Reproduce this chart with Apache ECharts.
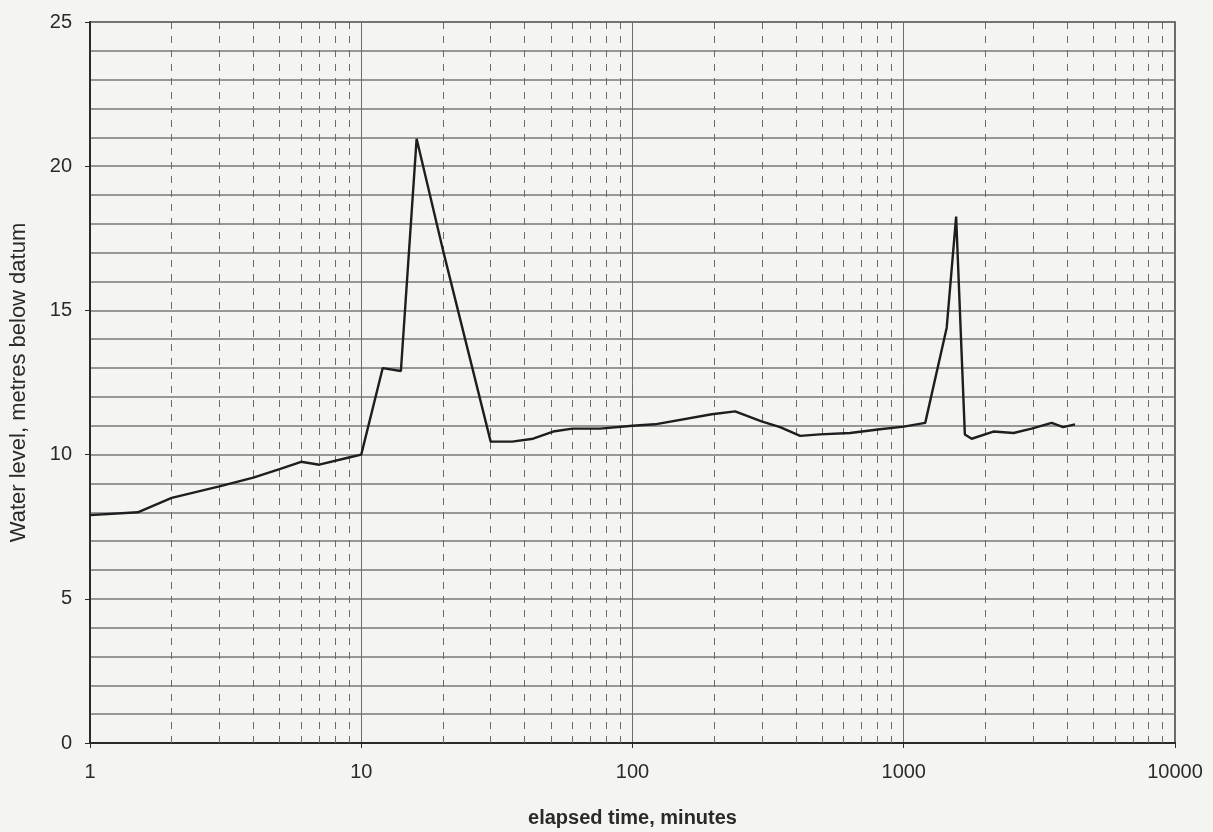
<!DOCTYPE html>
<html>
<head>
<meta charset="utf-8">
<script src="https://cdn.jsdelivr.net/npm/echarts@6/dist/echarts.min.js"></script>
<style>
  html, body { margin: 0; padding: 0; background: #f4f4f1; }
  #main { width: 1213px; height: 832px; }
</style>
</head>
<body>
<div id="main"></div>
<script>
// elapsed time (minutes) and water level (m below datum)
var times = [1, 1.5, 2, 3, 4, 5, 6, 7, 9, 10, 12, 14, 16, 20, 30, 36, 43, 51, 60, 76,
             100, 121, 196, 239, 299, 350, 415, 490, 634, 817, 1000, 1200, 1440, 1560,
             1680, 1780, 2140, 2540, 2960, 3510, 3870, 4280];
var levels = [7.9, 8.0, 8.5, 8.9, 9.2, 9.5, 9.75, 9.65, 9.9, 10.0, 13.0, 12.9, 20.95, 17.1, 10.45, 10.45, 10.55, 10.8, 10.9, 10.9,
              11.0, 11.05, 11.4, 11.5, 11.15, 10.95, 10.65, 10.7, 10.75, 10.88, 10.97, 11.1, 14.4, 18.25,
              10.7, 10.55, 10.8, 10.75, 10.9, 11.1, 10.95, 11.05];

// decade labels on x, and the 2..9 in-between gridlines (dashed)
var xTicks = [1, 10, 100, 1000, 10000];
var yTicks = [0, 5, 10, 15, 20, 25];
var minorX = [];
for (var d = 0; d < xTicks.length - 1; d++) {
    for (var k = 2; k <= 9; k++) {
        minorX.push(xTicks[d] * k);
    }
}

var chart = echarts.init(document.getElementById('main'));

var option = {
    backgroundColor: '#f4f4f1',
    animation: false,
    grid: {
        left: 90,
        right: 38,
        top: 22,
        bottom: 89,
        outerBoundsMode: 'none',
        show: true,
        borderColor: '#3a3a3a',
        borderWidth: 1.5,
        backgroundColor: 'transparent'
    },
    xAxis: {
        type: 'log',
        logBase: 10,
        min: xTicks[0],
        max: xTicks[xTicks.length - 1],
        name: 'elapsed time, minutes',
        nameLocation: 'middle',
        nameGap: 65,
        nameTextStyle: {
            fontFamily: 'Liberation Sans, Arial, sans-serif',
            fontSize: 20,
            fontWeight: 'bold',
            color: '#2a2a2a'
        },
        axisLine: { show: true, lineStyle: { color: '#2a2a2a', width: 2 } },
        axisTick: { show: true, inside: false, length: 5, lineStyle: { color: '#2a2a2a' } },
        axisLabel: {
            margin: 19,
            fontFamily: 'Liberation Sans, Arial, sans-serif',
            fontSize: 20,
            color: '#2a2a2a',
            formatter: function (v) { return String(Math.round(v)); }
        },
        splitLine: { show: true, lineStyle: { color: '#6e6e6e', width: 1 } }
    },
    yAxis: {
        type: 'value',
        min: yTicks[0],
        max: yTicks[yTicks.length - 1],
        interval: 5,
        name: 'Water level, metres below datum',
        nameLocation: 'middle',
        nameGap: 60,
        nameTextStyle: {
            fontFamily: 'Liberation Sans, Arial, sans-serif',
            fontSize: 22,
            color: '#2a2a2a'
        },
        axisLine: { show: true, lineStyle: { color: '#2a2a2a', width: 2 } },
        axisTick: { show: true, inside: false, length: 5, lineStyle: { color: '#2a2a2a' } },
        axisLabel: {
            margin: 18,
            fontFamily: 'Liberation Sans, Arial, sans-serif',
            fontSize: 20,
            color: '#2a2a2a'
        },
        splitLine: { show: true, lineStyle: { color: '#787878', width: 1.6 } },
        minorTick: { show: false, splitNumber: 5 },
        minorSplitLine: { show: true, lineStyle: { color: '#787878', width: 1.6 } }
    },
    series: [{
        type: 'line',
        data: times.map(function (t, i) { return [t, levels[i]]; }),
        symbol: 'none',
        lineStyle: { color: '#1e1e1e', width: 2.4 },
        z: 5,
        markLine: {
            silent: true,
            symbol: 'none',
            label: { show: false },
            lineStyle: { color: '#6a6a6a', width: 1, type: [7, 7] },
            data: minorX.map(function (v) { return { xAxis: v }; })
        }
    }]
};

chart.setOption(option);
</script>
</body>
</html>
